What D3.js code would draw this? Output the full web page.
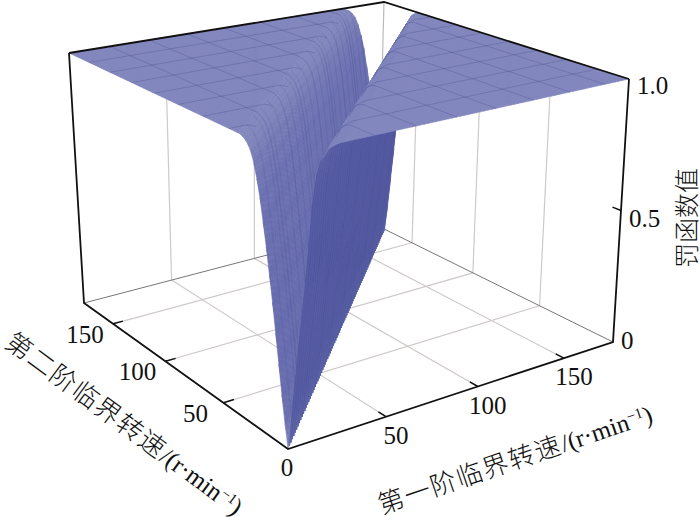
<!DOCTYPE html>
<html><head><meta charset="utf-8">
<script src="https://cdnjs.cloudflare.com/ajax/libs/d3/7.8.5/d3.min.js"></script>
<style>html,body{margin:0;background:#fff}svg{display:block}
text{fill:#111;font-family:"Liberation Serif",serif}
.cjk{font-family:"Noto Sans CJK SC",sans-serif;font-weight:300}</style>
</head><body><svg id="c" width="700" height="517"></svg>
<script>
// ---- values ----
const speedTicks = [50, 100, 150];
const penaltyTicks = [0, 0.5, 1.0];
const penaltyTickLabels = ["0", "0.5", "1.0"];
const speedMax = 180;
const nodesFirst = 87;         // surface cells along the first speed
const nodesSecond = 90;        // surface cells along the second speed
const meshLineEvery = 10;      // cells between plateau mesh lines
// penalty value against node distance |i-j|, beyond the end the value is 1
const penaltyWhereFirstAbove = [0, .11, .24, .37, .50, .64, .81, .91, .955, .98, .99, .996, 1];
const penaltyWhereSecondAbove = [0, .08, .17, .27, .37, .47, .56, .65, .73, .81, .87, .92, .955, .975, .988, .995, 1];
const titleFirst = "第一阶临界转速";
const titleSecond = "第二阶临界转速";
const titleZ = "罚函数值";

// ---- layout ----
const floorCorners = [[288,449],[613,342],[378,226],[84,303]]; // front,right,back,left
const topCorners   = [[285,155],[629,79],[384,2],[69,53]];

function homography(q){
  const [[x0,y0],[x1,y1],[x2,y2],[x3,y3]] = q;
  const dx1=x1-x2,dx2=x3-x2,sx=x0-x1+x2-x3,dy1=y1-y2,dy2=y3-y2,sy=y0-y1+y2-y3;
  const den=dx1*dy2-dx2*dy1;
  const g=(sx*dy2-dx2*sy)/den,h=(dx1*sy-sx*dy1)/den;
  const a=x1-x0+g*x1,b=x3-x0+h*x3,d=y1-y0+g*y1,e=y3-y0+h*y3;
  return (u,v)=>{const w=g*u+h*v+1;return [(a*u+b*v+x0)/w,(d*u+e*v+y0)/w];};
}
const hFloor=homography(floorCorners), hTop=homography(topCorners);
const uScale=d3.scaleLinear().domain([0,speedMax]).range([0,1]);
const vScale=d3.scaleLinear().domain([0,speedMax]).range([0,1]);
const zScale=d3.scaleLinear().domain([0,1]).range([0,1]);
function project(x1,x2,z){
  const u=uScale(x1),v=vScale(x2),t=zScale(z);
  const a=hFloor(u,v),b=hTop(u,v);
  return [a[0]+(b[0]-a[0])*t,a[1]+(b[1]-a[1])*t];
}
const svg=d3.select("#c");
const line=d3.line();
function seg(parent,pts,stroke,w){
  return parent.append("path").attr("d",line(pts)).attr("fill","none")
    .attr("stroke",stroke).attr("stroke-width",w);
}
const gridColor="#cfc9c9";
const back=svg.append("g");
speedTicks.forEach(s=>{
  seg(back,[project(s,speedMax,0),project(s,speedMax,1)],gridColor,1.2);
  seg(back,[project(speedMax,s,0),project(speedMax,s,1)],gridColor,1.2);
  seg(back,[project(s,0,0),project(s,speedMax,0)],gridColor,1.2);
  seg(back,[project(0,s,0),project(speedMax,s,0)],gridColor,1.2);
});
seg(back,[project(speedMax,speedMax,0),project(speedMax,speedMax,1)],"#bdb9b9",1.2);
seg(back,[project(0,speedMax,0),project(speedMax,speedMax,0)],"#77757a",1);
seg(back,[project(speedMax,0,0),project(speedMax,speedMax,0)],"#77757a",1);

// surface, in layers so that nearer parts hide farther ones
const stepFirst=speedMax/nodesFirst, stepSecond=speedMax/nodesSecond;
function zAt(i,j){
  const g=Math.abs(i-j), arr=i>j?penaltyWhereFirstAbove:penaltyWhereSecondAbove;
  return g<arr.length?arr[g]:1;
}
const surf=svg.append("g");
const shade=d3.interpolateRgb("#5459a4","#8287bd");
const shadeUnder=d3.interpolateRgb("#4f55a0","#6a6fb0");
const lineCol="rgba(62,66,130,.36)", ribCol="rgba(62,66,130,.24)";
const P=(i,j)=>project(i*stepFirst,j*stepSecond,zAt(i,j));
const cellPath=(i,j)=>line([P(i,j),P(i+1,j),P(i+1,j+1),P(i,j+1)])+"Z";
const minZ=(i,j)=>Math.min(zAt(i,j),zAt(i+1,j),zAt(i+1,j+1),zAt(i,j+1));
const isFlat=(i,j)=>minZ(i,j)===1;
function cellColor(i,j,scale){
  const z00=zAt(i,j),z10=zAt(i+1,j),z11=zAt(i+1,j+1),z01=zAt(i,j+1);
  const gx=(z10+z11-z00-z01)/2/stepFirst, gy=(z01+z11-z00-z10)/2/stepSecond;
  return scale(1/Math.sqrt(1+(gx*gx+gy*gy)*1100));
}
function paintFlat(test){
  let d="";
  for(let i=0;i<nodesFirst;i++)for(let j=0;j<nodesSecond;j++) if(test(i,j)&&isFlat(i,j)) d+=cellPath(i,j);
  const c=shade(1);
  surf.append("path").attr("d",d).attr("fill",c).attr("stroke",c).attr("stroke-width",.5);
}
function paintWall(test,scale){
  for(let i=nodesFirst-1;i>=0;i--)for(let j=nodesSecond-1;j>=0;j--) if(test(i,j)&&!isFlat(i,j)){
    const c=cellColor(i,j,scale);
    surf.append("path").attr("d",cellPath(i,j)).attr("fill",c).attr("stroke",c).attr("stroke-width",.6);
  }
}
function drawLine(pts,col){ if(pts.length>1) seg(surf,pts,col,.75); }
const constFirst=(i,from,to)=>d3.range(Math.max(from,0),Math.min(to,nodesSecond)+1).map(j=>P(i,j));
const constSecond=(j,from,to)=>d3.range(Math.max(from,0),Math.min(to,nodesFirst)+1).map(i=>P(i,j));
const wallLeftLen=penaltyWhereSecondAbove.length-1, wallRightLen=penaltyWhereFirstAbove.length-1;
const rimFrom=8;   // node distance at which the first-speed-above wall turns into its top side

// second speed above first
paintFlat((i,j)=>j>=i);
paintWall((i,j)=>j>=i,shade);
for(let i=1;i<nodesFirst;i++){
  if(i%meshLineEvery===0) drawLine(constFirst(i,i,nodesSecond),lineCol);
  else if(i%4===0) drawLine(constFirst(i,i,i+wallLeftLen),ribCol);
}
for(let j=meshLineEvery;j<nodesSecond;j+=meshLineEvery) drawLine(constSecond(j,0,j-wallLeftLen+2),lineCol);
// first speed above second: wall seen from below
paintWall((i,j)=>i>j&&minZ(i,j)<penaltyWhereFirstAbove[rimFrom],shadeUnder);
for(let j=0;j<nodesSecond;j++){
  if(j%meshLineEvery===0&&j>0) drawLine(constSecond(j,j,j+rimFrom),lineCol);
  else if(j%2===0) drawLine(constSecond(j,j,j+rimFrom),ribCol);
}
// first speed above second: rim and plateau seen from above
paintWall((i,j)=>i>j&&minZ(i,j)>=penaltyWhereFirstAbove[rimFrom],shade);
paintFlat((i,j)=>i>j);
for(let i=meshLineEvery;i<nodesFirst;i+=meshLineEvery) drawLine(constFirst(i,0,i-rimFrom),lineCol);
for(let j=meshLineEvery;j<nodesSecond;j+=meshLineEvery) drawLine(constSecond(j,j+rimFrom,nodesFirst),lineCol);

// frame
const fr=svg.append("g");
const black="#111";
const fontSize=25;
seg(fr,[project(0,speedMax,1),project(speedMax,speedMax,1),project(speedMax,0,1)],black,1.8);
seg(fr,[project(0,speedMax,1),project(0,speedMax,0),project(0,0,0),project(speedMax,0,0),project(speedMax,0,1)],black,1.8);
speedTicks.forEach(s=>{
  seg(fr,[project(s,0,0),project(s,speedMax*.03,0)],black,1.5);
  seg(fr,[project(0,s,0),project(speedMax*.03,s,0)],black,1.5);
  let p=project(s,0,0);
  fr.append("text").attr("x",p[0]+10).attr("y",p[1]+27).attr("text-anchor","middle").attr("font-size",fontSize).text(s);
  p=project(0,s,0);
  fr.append("text").attr("x",p[0]-28).attr("y",p[1]+19).attr("text-anchor","middle").attr("font-size",fontSize).text(s);
});
penaltyTicks.forEach((t,k)=>{
  const p=project(speedMax,0,t);
  if(t>0&&t<1) seg(fr,[p,project(speedMax,speedMax*.03,t)],black,1.5);
  fr.append("text").attr("x",p[0]+8).attr("y",p[1]+[7,16,15][k]).attr("font-size",fontSize).text(penaltyTickLabels[k]);
});
{const p=project(0,0,0);
 fr.append("text").attr("x",p[0]-1).attr("y",p[1]+27).attr("text-anchor","middle").attr("font-size",fontSize).text("0");}

function axisTitle(cx,cy,ang,cjk){
  const t=fr.append("text").attr("transform",`translate(${cx},${cy}) rotate(${ang})`)
    .attr("text-anchor","middle").attr("font-size",fontSize);
  t.append("tspan").attr("class","cjk").attr("font-size",26).attr("letter-spacing",1.5).text(cjk);
  t.append("tspan").text("/(r·min");
  t.append("tspan").attr("font-size",15).attr("dy",-8).text("−1");
  t.append("tspan").attr("dy",8).text(")");
}
axisTitle(119,431,36.4,titleSecond);
axisTitle(518,468,-18.8,titleFirst);
fr.append("text").attr("class","cjk").attr("transform","translate(696,218) rotate(-90)")
  .attr("text-anchor","middle").attr("font-size",25).text(titleZ);
</script></body></html>
